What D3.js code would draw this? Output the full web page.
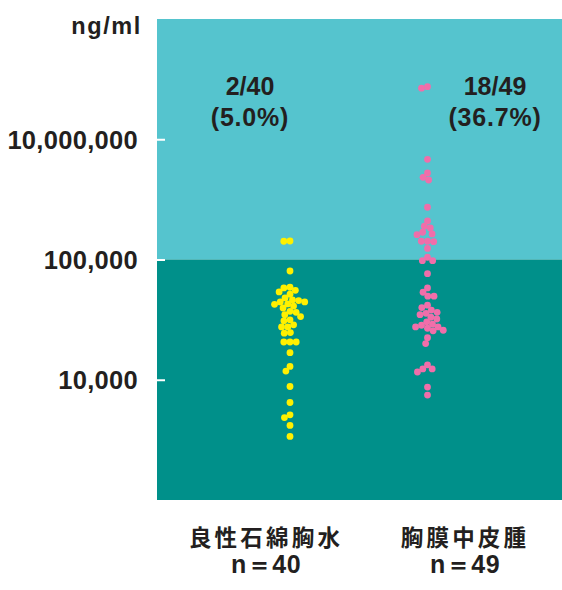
<!DOCTYPE html>
<html>
<head>
<meta charset="utf-8">
<script src="https://cdn.jsdelivr.net/npm/d3@7"></script>
<style>
  html, body { margin: 0; padding: 0; background: #ffffff; }
  svg { display: block; }
  .num { font-family: "Liberation Sans", Arial, Helvetica, sans-serif; font-weight: bold; fill: #231f20; }
  .cjk { font-family: "Noto Sans CJK JP", "Noto Sans", sans-serif; font-weight: bold; fill: #231f20; }
</style>
</head>
<body>
<svg id="chart" width="562" height="590"></svg>
<script>
// Groups shown on the x axis
const categories = ["良性石綿胸水", "胸膜中皮腫"];
const countLabels = ["n＝40", "n＝49"];
const ratioLabels = ["2/40", "18/49"];
const percentLabels = ["(5.0%)", "(36.7%)"];
const dotColors = ["#fff000", "#f06eaa"];

// Measured concentrations (ng/ml), one entry per patient
const benignValues = [
  203000, 201000, 80200, 58800, 58000, 55400, 53700, 51400, 47900, 46100,
  45500, 44400, 44400, 42700, 42400, 41000, 39500, 37100, 36400, 34800,
  33500, 31500, 30900, 28600, 27500, 27500, 24700, 24400, 20600, 20600,
  20600, 16800, 12900, 11800, 8790, 6470, 5110, 4850, 4170, 3380
];
const mesoValues = [
  75000000, 70600000, 4640000, 2750000, 2330000, 2100000, 739000, 438000,
  357000, 334000, 284000, 266000, 259000, 201000, 201000, 198000, 153000, 109000,
  97700, 97700, 76300, 58000, 53400, 49500, 49500, 41700, 39800, 38000,
  36400, 35700, 34800, 33100, 32000, 30300, 29000, 28400, 27500, 27500,
  26800, 25800, 25500, 22400, 20000, 13300, 12300, 12300, 11600, 8690, 7450
];

// Axis ticks
const tickValues = [10000, 100000, 10000000];
const tickLabels = ["10,000", "100,000", "10,000,000"];
const unitLabel = "ng/ml";
const cutoff = 100000;

const svg = d3.select("#chart");
const plot = { left: 157, top: 19, width: 405, height: 481 };

// Log axis: one decade per 120px below the cut-off, compressed above it
const y = d3.scaleLog()
  .domain([1000, cutoff, 1e9])
  .range([plot.height, plot.height / 2, 0]);

const xDots = d3.scalePoint().domain(categories).range([133, 270.5]);
const xLabels = d3.scalePoint().domain(categories).range([109, 308]);
const xRatio = d3.scalePoint().domain(categories).range([93, 338]);

const g = svg.append("g").attr("transform", `translate(${plot.left},${plot.top})`);

// Background bands split at the cut-off
g.append("rect")
  .attr("x", 0).attr("y", 0)
  .attr("width", plot.width).attr("height", y(cutoff))
  .attr("fill", "#55c4ce");
g.append("rect")
  .attr("x", 0).attr("y", y(cutoff))
  .attr("width", plot.width).attr("height", plot.height - y(cutoff))
  .attr("fill", "#00908a");

// Axis: short white ticks inside the plot, labels on the left
const axis = d3.axisLeft(y)
  .tickValues(tickValues)
  .tickFormat((d, i) => tickLabels[i])
  .tickSize(0)
  .tickPadding(19);
const axisG = g.append("g").call(axis);
axisG.select(".domain").remove();
axisG.selectAll(".tick text")
  .attr("class", "num")
  .attr("font-size", 25.5)
  .attr("letter-spacing", 0.3)
  .attr("dy", "0.36em")
  .style("font-family", null);
axisG.selectAll(".tick").append("line")
  .attr("x1", 0).attr("x2", 8)
  .attr("stroke", "#ffffff").attr("stroke-width", 2);

svg.append("text")
  .attr("class", "num")
  .attr("x", 142).attr("y", 34)
  .attr("text-anchor", "end")
  .attr("font-size", 23.5)
  .attr("letter-spacing", 1.6)
  .text(unitLabel);

// Beeswarm placement: each dot takes the offset nearest the centre line
function swarm(values, minDist) {
  const pts = values.map(v => ({ v, y: y(v) })).sort((a, b) => a.y - b.y);
  const placed = [];
  pts.forEach(p => {
    const blocked = [];
    placed.forEach(q => {
      const dy = Math.abs(q.y - p.y);
      if (dy < minDist) {
        const dx = Math.sqrt(minDist * minDist - dy * dy);
        blocked.push([q.x - dx, q.x + dx]);
      }
    });
    const candidates = [0];
    blocked.forEach(b => candidates.push(b[0], b[1]));
    candidates.sort((a, b) => Math.abs(a) - Math.abs(b) || a - b);
    const ok = c => blocked.every(b => c <= b[0] + 1e-6 || c >= b[1] - 1e-6);
    p.x = candidates.find(ok);
    placed.push(p);
  });
  return pts;
}

[benignValues, mesoValues].forEach((vals, i) => {
  const cx = xDots(categories[i]);
  g.append("g").selectAll("circle")
    .data(swarm(vals, 6.2))
    .join("circle")
    .attr("cx", d => cx + d.x)
    .attr("cy", d => d.y)
    .attr("r", 3.4)
    .attr("fill", dotColors[i]);
});

// Share of cases above the cut-off
categories.forEach((c, i) => {
  const t = g.append("text")
    .attr("class", "num")
    .attr("text-anchor", "middle")
    .attr("font-size", 25);
  t.append("tspan").attr("x", xRatio(c)).attr("y", 95 - plot.top).text(ratioLabels[i]);
  t.append("tspan").attr("x", xRatio(c)).attr("y", 126 - plot.top).attr("letter-spacing", 0.8).text(percentLabels[i]);
});

// Category names and sample sizes
categories.forEach((c, i) => {
  g.append("text")
    .attr("class", "cjk")
    .attr("x", xLabels(c)).attr("y", 546 - plot.top)
    .attr("text-anchor", "middle")
    .attr("font-size", 22.5)
    .attr("letter-spacing", 3.2)
    .text(c);
  g.append("text")
    .attr("class", "num")
    .attr("x", xLabels(c)).attr("y", 573 - plot.top)
    .attr("text-anchor", "middle")
    .attr("font-size", 25)
    .attr("letter-spacing", 0.5)
    .text(countLabels[i]);
});
</script>
</body>
</html>
